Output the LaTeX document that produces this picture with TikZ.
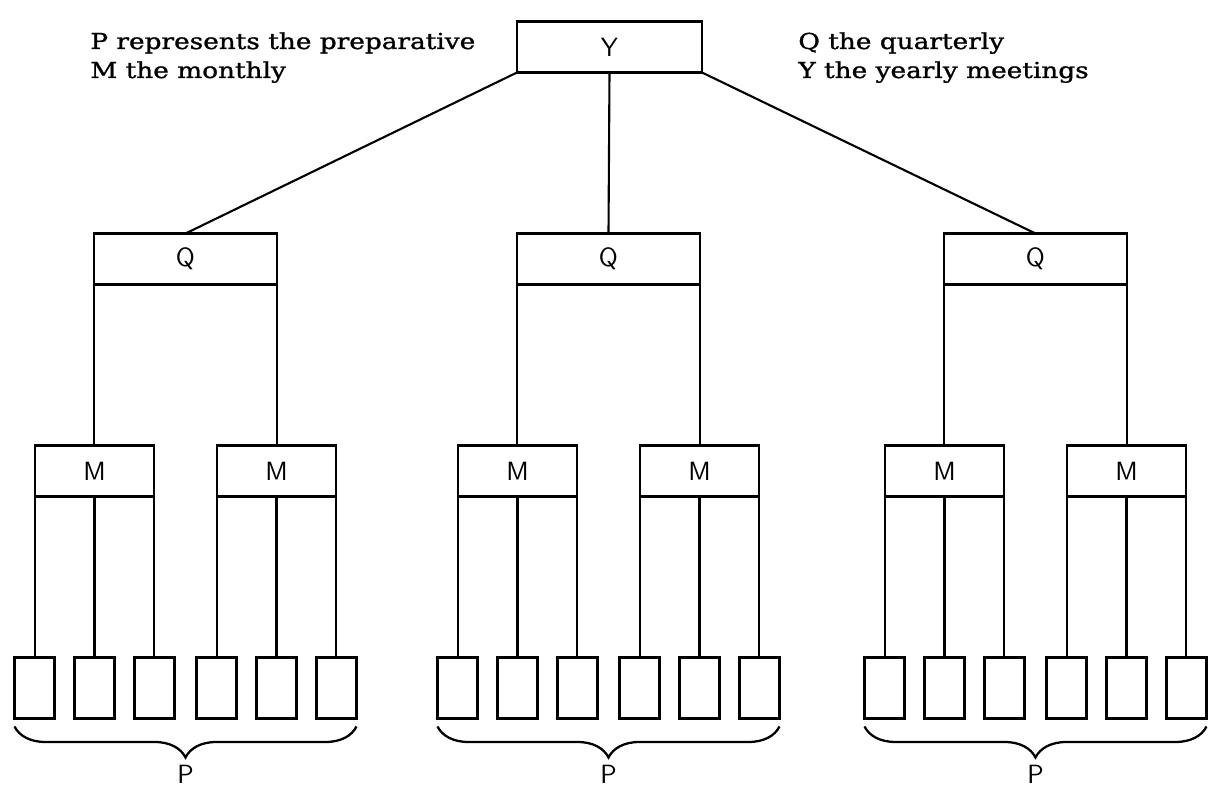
\documentclass[tikz,border=0pt]{standalone}
\usepackage{fontspec}
\newfontfamily\legendfont[FakeStretch=1.2,FakeBold=1.2]{DejaVu Serif}
\usetikzlibrary{decorations.pathreplacing,calc}
\begin{document}
\begin{tikzpicture}[x=0.02cm,y=-0.02cm,
  meet/.style={draw, line width=1.2pt, inner sep=0pt, outer sep=0pt,
    font=\sffamily\fontsize{15}{15}\selectfont},
  ybox/.style={meet, minimum width=3.7cm, minimum height=1.02cm},
  qbox/.style={meet, minimum width=3.66cm, minimum height=1.02cm},
  mbox/.style={meet, minimum width=2.38cm, minimum height=1.02cm},
  pbox/.style={draw, line width=1.2pt, inner sep=0pt, outer sep=0pt,
    minimum width=0.8cm, minimum height=1.22cm},
  link/.style={line width=1.2pt},
  legend/.style={anchor=base west, inner sep=0pt,
    font=\legendfont\fontsize{12.5}{15}\selectfont},
  plabel/.style={anchor=north, inner sep=0pt,
    font=\sffamily\fontsize{15}{15}\selectfont},
  curly/.style={decorate, decoration={brace, mirror, amplitude=0.62cm},
    line width=1.3pt}
]
\useasboundingbox (0,0) rectangle (1215,793);

% yearly meeting and the key
\node[ybox] (y) at (609.5,47) {Y};
\node[legend] (legP) at (90,49) {P represents the preparative};
\node[legend] (legM) at (90,78) {M the monthly};
\node[legend] (legQ) at (798,49) {Q the quarterly};
\node[legend] (legY) at (798,78) {Y the yearly meetings};

% three quarterly meetings, each with two monthly and six preparative ones
\foreach \g/\c in {1/185.5,2/608.5,3/1035.5}{
  \node[qbox] (q\g) at (\c,259) {Q};
  \foreach \k/\offm in {1/-91,2/91}{
    \pgfmathsetmacro\mx{\c+\offm}
    \node[mbox] (m\g\k) at (\mx,471) {M};
    \foreach \j/\offp in {1/-60,2/0,3/60}{
      \pgfmathsetmacro\px{\mx+\offp}
      \node[pbox] (p\g\k\j) at (\px,688) {};
    }
    \draw[link] (m\g\k.south west) -- (m\g\k.south west |- p\g\k1.north)
                (m\g\k.south) -- (p\g\k2.north)
                (m\g\k.south east) -- (m\g\k.south east |- p\g\k3.north);
  }
  \draw[link] (q\g.south west) -- (q\g.south west |- m\g1.north)
              (q\g.south east) -- (q\g.south east |- m\g2.north);
  \coordinate (bl\g) at ($(p\g11.south west)+(0,8)$);
  \coordinate (br\g) at ($(p\g23.south east)+(0,8)$);
  \draw[curly] (bl\g) -- (br\g);
  \node[plabel] (lab\g) at ($(bl\g)!0.5!(br\g)+(0,38)$) {P};
}

% links from the yearly meeting
\draw[link] (y.south west) -- (q1.north)
            (y.south) -- (q2.north)
            (y.south east) -- (q3.north);
\end{tikzpicture}
\end{document}
